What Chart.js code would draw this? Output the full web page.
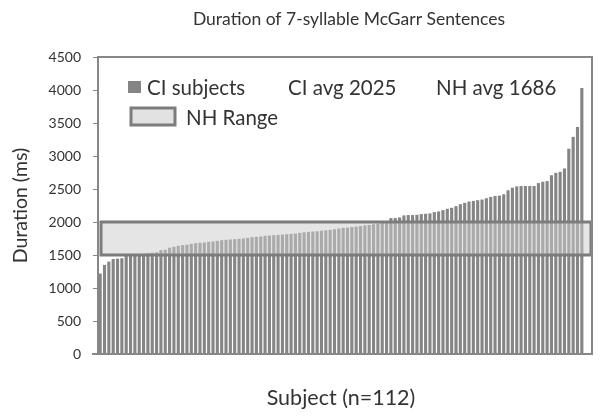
<!DOCTYPE html>
<html>
<head>
<meta charset="utf-8">
<script src="https://cdn.jsdelivr.net/npm/chart.js@4.4.1/dist/chart.umd.min.js"></script>
<style>
  html, body { margin: 0; padding: 0; background: #fff; }
</style>
</head>
<body>
<canvas id="myChart" width="600" height="417"></canvas>
<script>
// sorted durations (ms), one bar per CI subject
const durations = [
  1220, 1350, 1400, 1440, 1445, 1450, 1490, 1495, 1500, 1510,
  1520, 1530, 1535, 1540, 1575, 1580, 1610, 1625, 1640, 1650,
  1655, 1670, 1680, 1685, 1690, 1700, 1705, 1715, 1725, 1730,
  1735, 1740, 1745, 1750, 1760, 1770, 1775, 1780, 1790, 1795,
  1800, 1805, 1810, 1815, 1820, 1825, 1835, 1845, 1850, 1855,
  1860, 1868, 1875, 1880, 1890, 1900, 1910, 1915, 1925, 1930,
  1940, 1950, 1955, 1965, 1975, 1985, 1990, 2060, 2060, 2070,
  2100, 2105, 2105, 2110, 2120, 2125, 2130, 2150, 2160, 2180,
  2200, 2215, 2240, 2270, 2290, 2310, 2320, 2330, 2340, 2360,
  2380, 2395, 2400, 2420, 2480, 2520, 2540, 2545, 2545, 2545,
  2545, 2590, 2610, 2620, 2710, 2745, 2760, 2810, 3110, 3290,
  3440, 4030
];
const subjects = durations.map((d, i) => 'Subject ' + (i + 1));
const nhRange = [1500, 2000];
const ciAvg = 2025;
const nhAvg = 1686;
const yMin = 0, yMax = 4500, yStep = 500;

const FONT = 'Lato, "Open Sans", sans-serif';
const TEXT = '#333333';
const BAR = '#858585';
const LINE = '#878787';

// frame, NH range box, legend and title
const overlay = {
    id: 'overlay',
    afterDatasetsDraw(chart) {
        const { ctx, chartArea, scales } = chart;
        const y = scales.y;
        const frameRight = chartArea.right + 8;

        ctx.save();
        // NH range band
        const top = y.getPixelForValue(nhRange[1]);
        const bot = y.getPixelForValue(nhRange[0]);
        const bx = chartArea.left + 3;
        const bw = frameRight - 1 - bx;
        ctx.fillStyle = 'rgba(206,206,206,0.52)';
        ctx.fillRect(bx, top, bw, bot - top);
        ctx.lineWidth = 3;
        ctx.strokeStyle = '#7c7c7c';
        ctx.strokeRect(bx, top, bw, bot - top);

        // plot frame
        ctx.lineWidth = 2;
        ctx.strokeStyle = LINE;
        ctx.beginPath();
        ctx.moveTo(chartArea.left, chartArea.top);
        ctx.lineTo(frameRight, chartArea.top);
        ctx.lineTo(frameRight, chartArea.bottom);
        ctx.lineTo(chartArea.left - 6, chartArea.bottom);
        ctx.stroke();

        // legend
        ctx.fillStyle = BAR;
        ctx.fillRect(128, 81, 13, 12);
        ctx.fillStyle = 'rgba(206,206,206,0.6)';
        ctx.fillRect(131, 108, 44, 17);
        ctx.lineWidth = 3;
        ctx.strokeStyle = '#7c7c7c';
        ctx.strokeRect(131, 108, 44, 17);

        ctx.fillStyle = TEXT;
        ctx.font = '20.5px ' + FONT;
        ctx.textBaseline = 'middle';
        ctx.textAlign = 'left';
        ctx.fillText('CI subjects', 147, 88);
        ctx.fillText('CI avg ' + ciAvg, 288, 88);
        ctx.fillText('NH avg ' + nhAvg, 436, 88);
        ctx.fillText('NH Range', 186, 118);

        // title
        ctx.font = '17.5px ' + FONT;
        ctx.textAlign = 'center';
        ctx.fillText('Duration of 7-syllable McGarr Sentences', (chartArea.left + frameRight) / 2 + 4, 19);
        ctx.restore();
    }
};

const data = {
    labels: subjects,
    datasets: [{
        label: 'CI subjects',
        data: durations,
        backgroundColor: BAR,
        borderWidth: 0,
        barPercentage: 0.72,
        categoryPercentage: 1.0
    }]
};

const config = {
    type: 'bar',
    data,
    options: {
        responsive: false,
        animation: false,
        devicePixelRatio: 1,
        layout: { padding: { left: 5, top: 57, right: 16, bottom: 4 } },
        plugins: {
            legend: { display: false },
            title: { display: false },
            tooltip: { enabled: false }
        },
        scales: {
            x: {
                ticks: { display: false },
                grid: { display: false },
                border: { display: false },
                title: {
                    display: true,
                    text: 'Subject (n=112)',
                    color: TEXT,
                    font: { family: FONT, size: 21.5 },
                    padding: { top: 4, bottom: 2 }
                },
                afterFit(scale) { scale.height = 59; }
            },
            y: {
                min: yMin,
                max: yMax,
                ticks: {
                    stepSize: yStep,
                    color: TEXT,
                    padding: 12,
                    font: { family: FONT, size: 14 },
                    callback: (v) => String(v)
                },
                grid: {
                    drawOnChartArea: false,
                    drawTicks: true,
                    tickLength: 5,
                    color: LINE
                },
                border: { display: true, color: LINE, width: 2 },
                title: {
                    display: true,
                    text: 'Duration (ms)',
                    color: TEXT,
                    font: { family: FONT, size: 19.5 },
                    padding: { top: 4, bottom: 4 }
                },
                afterFit(scale) { scale.width = 93; }
            }
        }
    },
    plugins: [overlay]
};

const chart = new Chart(document.getElementById('myChart').getContext('2d'), config);
</script>
</body>
</html>
